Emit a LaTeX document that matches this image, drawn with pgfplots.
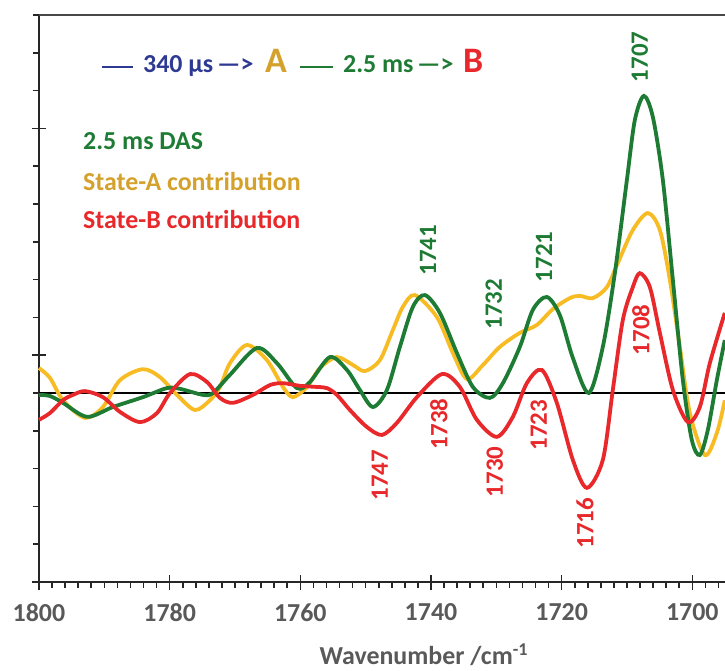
\documentclass[border=0pt]{standalone}
\usepackage{fontspec}
\setmainfont{Carlito}
\usepackage{pgfplots}
\pgfplotsset{compat=1.18}

\definecolor{dasgreen}{HTML}{1E7B34}
\definecolor{stateA}{HTML}{F7BC24}
\definecolor{stateAtext}{HTML}{D4A22C}
\definecolor{stateB}{HTML}{E8282A}
\definecolor{arrowblue}{HTML}{2E3A92}
\definecolor{ticktext}{HTML}{595959}
\definecolor{axisgray}{HTML}{262626}

\newcommand\bigfont{\fontsize{26}{30}\selectfont\bfseries}
\newcommand\peakfont{\fontsize{25}{30}\selectfont\bfseries}

\begin{document}
\begin{tikzpicture}
\begin{axis}[
  name=ax,
  scale only axis,
  width=686bp, height=567bp,
  x dir=reverse,
  xmin=1695, xmax=1800,
  ymin=-5, ymax=10,
  clip=false,
  axis x line*=bottom,
  axis y line*=left,
  axis line style={axisgray, line width=2bp},
  every tick/.style={axisgray, line width=1.6bp},
  tick align=outside,
  major tick length=6bp,
  xtick={1800,1798,...,1696},
  xticklabels={},
  ytick={-5,-4,...,10},
  yticklabels={},
  extra x ticks={1800,1780,1760,1740,1720,1700},
  extra x tick labels={1800,1780,1760,1740,1720,1700},
  extra x tick style={tick align=center, major tick length=15bp},
  extra y ticks={-5,1,7},
  extra y tick labels={},
  extra y tick style={tick align=center, major tick length=14bp},
  xticklabel style={font=\bigfont, text=ticktext, inner sep=0pt, anchor=north, yshift=-14bp},
  xlabel={Wavenumber /cm\textsuperscript{-1}},
  xlabel style={font=\bigfont, text=ticktext, inner sep=0pt,
    at={(axis cs:1741.1,-5)}, anchor=base, yshift=-82bp},
]
% zero line
\draw[black, line width=1.3bp] (axis cs:1800,0) -- (axis cs:1695,0);

% State-A contribution
\addplot[stateA, line width=3.8bp, smooth] coordinates {
(1800.00,0.66) (1798.32,0.40) (1796.33,-0.19) (1792.96,-0.66) (1790.21,-0.37)
(1787.60,0.34) (1784.09,0.63) (1781.48,0.42) (1778.88,-0.05) (1776.13,-0.45)
(1773.83,-0.19) (1772.30,0.16) (1770.77,0.79) (1768.17,1.27) (1765.11,0.87)
(1762.66,0.16) (1761.13,-0.11) (1758.99,0.16) (1757.00,0.66) (1754.40,0.95)
(1751.95,0.74) (1750.11,0.58) (1747.82,0.87) (1745.83,1.67) (1744.30,2.28)
(1742.46,2.59) (1739.10,2.01) (1736.65,1.06) (1734.51,0.37) (1732.06,0.74)
(1729.46,1.22) (1726.40,1.59) (1723.80,1.80) (1721.35,2.22) (1718.75,2.51)
(1717.22,2.57) (1715.23,2.51) (1713.08,2.80) (1711.40,3.44) (1709.11,4.31)
(1706.81,4.76) (1704.97,4.31) (1703.44,2.99) (1701.91,1.22) (1700.38,-0.53)
(1698.09,-1.64) (1696.25,-1.06) (1695.03,-0.19)
};

% 2.5 ms DAS
\addplot[dasgreen, line width=3.8bp, smooth] coordinates {
(1800.00,-0.05) (1798.32,-0.08) (1796.33,-0.26) (1792.65,-0.63) (1788.68,-0.37)
(1784.09,-0.11) (1780.41,0.13) (1778.42,0.11) (1774.90,-0.05) (1773.37,0.00)
(1770.77,0.48) (1766.64,1.19) (1763.58,0.79) (1760.52,0.13) (1758.53,0.29)
(1755.47,0.95) (1752.87,0.61) (1750.88,0.08) (1748.89,-0.37) (1746.75,0.08)
(1744.76,1.22) (1742.77,2.28) (1740.93,2.59) (1738.64,2.12) (1736.04,1.06)
(1733.59,0.16) (1730.99,-0.13) (1729.00,0.26) (1726.40,1.22) (1724.41,2.20)
(1722.27,2.54) (1720.28,2.06) (1718.29,0.93) (1715.84,0.00) (1713.70,1.22)
(1711.86,3.17) (1710.02,5.63) (1708.80,7.22) (1707.42,7.86) (1706.04,7.30)
(1704.51,5.63) (1702.98,2.99) (1701.45,0.34) (1700.08,-1.24) (1698.85,-1.64)
(1697.63,-0.98) (1696.25,0.34) (1695.03,1.40)
};

% State-B contribution
\addplot[stateB, line width=3.8bp, smooth] coordinates {
(1800.00,-0.71) (1798.32,-0.53) (1796.33,-0.19) (1794.80,-0.05) (1792.96,0.05)
(1790.21,-0.11) (1787.60,-0.50) (1784.54,-0.77) (1781.94,-0.53) (1779.95,0.00)
(1776.89,0.50) (1774.29,0.29) (1772.30,-0.13) (1770.31,-0.26) (1767.25,-0.05)
(1764.65,0.21) (1762.66,0.26) (1760.06,0.19) (1757.46,0.16) (1755.93,0.13)
(1754.40,-0.05) (1752.41,-0.45) (1749.81,-0.90) (1747.51,-1.11) (1745.22,-0.79)
(1742.16,-0.11) (1738.33,0.50) (1735.58,0.16) (1732.98,-0.71) (1729.92,-1.16)
(1727.47,-0.63) (1725.33,0.26) (1723.03,0.61) (1720.74,-0.26) (1718.29,-1.77)
(1716.14,-2.51) (1713.70,-1.77) (1712.17,0.08) (1710.64,1.93) (1709.11,2.80)
(1708.04,3.17) (1706.50,2.80) (1704.97,1.59) (1702.98,0.08) (1700.69,-0.77)
(1698.85,-0.37) (1697.32,0.79) (1695.03,2.12)
};

% peak labels
\node[dasgreen, font=\peakfont, rotate=90] at (axis cs:1708.03,8.89) {1707};
\node[dasgreen, font=\peakfont, rotate=90] at (axis cs:1740.47,3.78) {1741};
\node[dasgreen, font=\peakfont, rotate=90] at (axis cs:1730.37,2.35) {1732};
\node[dasgreen, font=\peakfont, rotate=90] at (axis cs:1722.72,3.60) {1721};
\node[stateB, font=\peakfont, rotate=90] at (axis cs:1747.82,-2.17) {1747};
\node[stateB, font=\peakfont, rotate=90] at (axis cs:1738.79,-0.82) {1738};
\node[stateB, font=\peakfont, rotate=90] at (axis cs:1730.22,-2.09) {1730};
\node[stateB, font=\peakfont, rotate=90] at (axis cs:1723.49,-0.85) {1723};
\node[stateB, font=\peakfont, rotate=90] at (axis cs:1716.45,-3.44) {1716};
\node[stateB, font=\peakfont, rotate=90] at (axis cs:1707.88,1.67) {1708};

% series names
\node[dasgreen, font=\bigfont, anchor=base west, inner sep=0pt] at (axis cs:1793.27,6.43) {2.5 ms DAS};
\node[stateAtext, font=\bigfont, anchor=base west, inner sep=0pt] at (axis cs:1793.27,5.37) {State-A contribution};
\node[stateB, font=\bigfont, anchor=base west, inner sep=0pt] at (axis cs:1793.27,4.34) {State-B contribution};

% kinetic scheme
\draw[arrowblue, line width=2.3bp] (axis cs:1790.36,8.62) -- (axis cs:1785.62,8.62);
\node[arrowblue, font=\bigfont, anchor=base west, inner sep=0pt] at (axis cs:1784.09,8.47) {340 µs};
\node[arrowblue, font=\bigfont, anchor=base west, inner sep=0pt] at (axis cs:1772.76,8.47) {—>};
\node[stateAtext, font=\fontsize{36}{40}\selectfont\bfseries, anchor=base west, inner sep=0pt] at (axis cs:1765.42,8.47) {A};
\draw[dasgreen, line width=2.3bp] (axis cs:1760.06,8.62) -- (axis cs:1755.01,8.62);
\node[dasgreen, font=\bigfont, anchor=base west, inner sep=0pt] at (axis cs:1753.48,8.47) {2.5 ms};
\node[dasgreen, font=\bigfont, anchor=base west, inner sep=0pt] at (axis cs:1742.16,8.47) {—>};
\node[stateB, font=\fontsize{36}{40}\selectfont\bfseries, anchor=base west, inner sep=0pt] at (axis cs:1735.12,8.47) {B};

% top frame line
\draw[axisgray!85, line width=1.6bp] (rel axis cs:0,1) -- (rel axis cs:1,1);
\end{axis}
\pgfresetboundingbox
\useasboundingbox ([xshift=-39bp,yshift=-89bp]ax.south west) rectangle ([yshift=15bp]ax.north east);
\end{tikzpicture}
\end{document}
